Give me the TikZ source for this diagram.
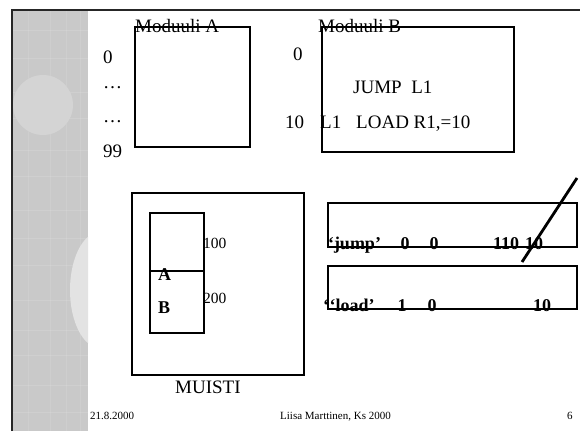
\documentclass[tikz,border=0pt]{standalone}
\usepackage{fontspec}
\setmainfont{Liberation Serif}
\begin{document}
\begin{tikzpicture}[x=1pt,y=-1pt,
  box/.style={draw=black,line width=1.4pt},
  lbl/.style={inner sep=0pt,anchor=base west,font=\fontsize{19}{22}\selectfont},
  bl/.style={inner sep=0pt,anchor=base,font=\fontsize{18}{21}\selectfont\bfseries},
  sm/.style={inner sep=0pt,anchor=base west,font=\fontsize{15.5}{18}\selectfont},
  ft/.style={inner sep=0pt,anchor=base west,font=\fontsize{11}{13}\selectfont}]
\useasboundingbox (0,0) rectangle (580,431);
\fill[white] (0,0) rectangle (580,431);
% left decorative strip
\begin{scope}
\clip (12,10) rectangle (88,431);
\fill[black!21] (12,10) rectangle (88,431);
\foreach \yy in {30,58,92,118,150,176,210,238,265,300,330,355,385,412}
  \draw[white,opacity=0.12,line width=1pt] (12,\yy) -- (88,\yy);
\foreach \xx in {28,50,66,80}
  \draw[white,opacity=0.1,line width=1pt] (\xx,10) -- (\xx,431);
\fill[black!17] (43,105) circle (30);
\fill[black!11] (100,290) ellipse (30 and 58);
\end{scope}
% frame
\draw[line width=2pt,black!85] (11.5,431) -- (11.5,9.5) -- (581,9.5);
% module A
\node[box,minimum width=115,minimum height=120,inner sep=0pt] (modA) at (192.5,87) {};
\node[lbl] (tA) at (135,32) {Moduuli A};
\node[lbl] (a0) at (103,63) {0};
\node[lbl] (a1) at (103,88) {\dots};
\node[lbl] (a2) at (103,122) {\dots};
\node[lbl] (a99) at (103,157) {99};
% module B
\node[box,minimum width=192,minimum height=125,inner sep=0pt] (modB) at (418,89.5) {};
\node[lbl] (tB) at (318,32) {Moduuli B};
\node[lbl] (b0) at (293,60) {0};
\node[lbl] (jmp) at (353,93) {JUMP\ \ L1};
\node[lbl] (b10) at (285,128) {10};
\node[lbl] (bL1) at (320,128) {L1};
\node[lbl] (load) at (356,128) {LOAD R1,=10};
% memory
\node[box,minimum width=172,minimum height=182,inner sep=0pt] (mem) at (218,284) {};
\node[box,minimum width=54,minimum height=58,inner sep=0pt] (memA) at (177,242) {};
\node[box,minimum width=54,minimum height=62,inner sep=0pt] (memB) at (177,302) {};
\node[sm] (m100) at (203,248) {100};
\node[sm] (m200) at (203,303) {200};
\node[bl,anchor=base west] (lA) at (158,280) {A};
\node[bl,anchor=base west] (lB) at (158,313) {B};
\node[lbl] (muisti) at (175,393) {MUISTI};
% instruction boxes
\node[box,minimum width=249,minimum height=44,inner sep=0pt] (r1) at (452.5,225) {};
\node[box,minimum width=249,minimum height=43,inner sep=0pt] (r2) at (452.5,287.5) {};
\node[bl] (j1) at (354.5,249) {‘jump’};
\node[bl] (j2) at (405,249) {0};
\node[bl] (j3) at (434,249) {0};
\node[bl] (j4) at (506,249) {110};
\node[bl] (j5) at (534,249) {10};
\node[bl,anchor=base west] (l1) at (323,311) {\hbox{‘}\kern0.5pt\hbox{‘}load’};
\node[bl] (l2) at (402,311) {1};
\node[bl] (l3) at (432,311) {0};
\node[bl] (l4) at (542,311) {10};
\coordinate (s1) at (577,178);
\coordinate (s2) at (522,262);
\draw[line width=2.8pt] (s1) -- (s2);
% footer
\node[ft] (date) at (90,419) {21.8.2000};
\node[ft] (auth) at (280,419) {Liisa Marttinen, Ks 2000};
\node[ft] (page) at (567,419) {6};
\end{tikzpicture}
\end{document}
